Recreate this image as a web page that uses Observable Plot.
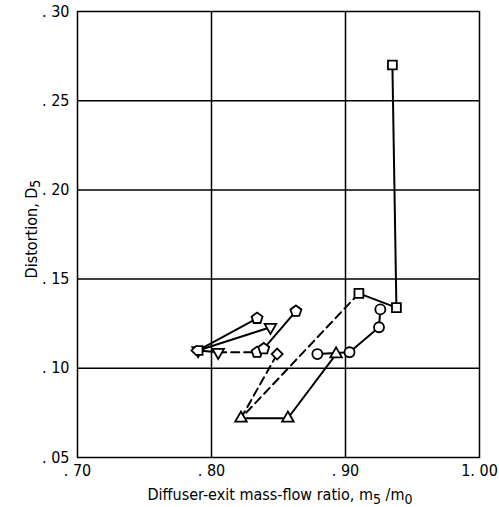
<!DOCTYPE html>
<html>
<head>
<meta charset="utf-8">
<script src="https://cdn.jsdelivr.net/npm/d3@7"></script>
<script src="https://cdn.jsdelivr.net/npm/@observablehq/plot@0.6"></script>
<style>
  html, body { margin: 0; padding: 0; background: #fff; }
  #chart svg { display: block; }
</style>
</head>
<body>
<div id="chart"></div>
<script>
// ---- data ----
const xTicks = [0.70, 0.80, 0.90, 1.00];
const xTickLabels = [". 70", ". 80", ". 90", "1. 00"];
const yTicks = [0.05, 0.10, 0.15, 0.20, 0.25, 0.30];
const yTickLabels = [". 05", ". 10", ". 15", ". 20", ". 25", ". 30"];

const squareX = [0.935, 0.938, 0.910];
const squareY = [0.270, 0.134, 0.142];

const circleX = [0.879, 0.903, 0.925, 0.926];
const circleY = [0.108, 0.109, 0.123, 0.133];

const triangleX = [0.822, 0.857, 0.893];
const triangleY = [0.072, 0.072, 0.108];

const diamondX = [0.849];
const diamondY = [0.108];

const pentagonX = [0.834, 0.839, 0.863];
const pentagonY = [0.109, 0.111, 0.132];

const flagX = [0.790, 0.834];
const flagY = [0.110, 0.128];

const invTriX = [0.844, 0.790, 0.805];
const invTriY = [0.123, 0.110, 0.109];

// ---- custom symbols ----
const sqrt3 = Math.sqrt(3);
const invTriangle = {
  draw(ctx, size) {
    const y = Math.sqrt(size / (sqrt3 * 3));
    ctx.moveTo(0, y * 2);
    ctx.lineTo(-sqrt3 * y, -y);
    ctx.lineTo(sqrt3 * y, -y);
    ctx.closePath();
  }
};
const diamondSym = {
  draw(ctx, size) {
    const s = Math.sqrt(size) * 0.62;
    ctx.moveTo(0, -s);
    ctx.lineTo(s, 0);
    ctx.lineTo(0, s);
    ctx.lineTo(-s, 0);
    ctx.closePath();
  }
};
const pentagon = {
  draw(ctx, size) {
    const r = Math.sqrt(size / 2.38);
    for (let i = 0; i < 5; i++) {
      const a = -Math.PI / 2 + i * 2 * Math.PI / 5;
      const px = r * Math.cos(a), py = r * Math.sin(a);
      if (i === 0) ctx.moveTo(px, py); else ctx.lineTo(px, py);
    }
    ctx.closePath();
  }
};
const homePlateLeft = {
  draw(ctx, size) {
    const s = Math.sqrt(size) / 2;
    ctx.moveTo(-s * 1.5, 0);
    ctx.lineTo(-s * 0.5, -s);
    ctx.lineTo(s, -s);
    ctx.lineTo(s, s);
    ctx.lineTo(-s * 0.5, s);
    ctx.closePath();
  }
};

const zip = (xs, ys) => xs.map((x, i) => ({x, y: ys[i]}));
const squares = zip(squareX, squareY);
const circles = zip(circleX, circleY);
const triangles = zip(triangleX, triangleY);
const diamonds = zip(diamondX, diamondY);
const pentagons = zip(pentagonX, pentagonY);
const flags = zip(flagX, flagY);
const invTris = zip(invTriX, invTriY);

// dashed connections between series
const dashedA = [squares[2], triangles[0]];
const dashedB = [triangles[0], diamonds[0]];
const dashedC = [invTris[2], pentagons[0]];

const lineStyle = {x: "x", y: "y", stroke: "black", strokeWidth: 2};
const dashStyle = {x: "x", y: "y", stroke: "black", strokeWidth: 2, strokeDasharray: "8,5"};
const dotStyle = (sym, r) => ({x: "x", y: "y", symbol: () => sym, r, fill: "white", stroke: "black", strokeWidth: 1.8});

const fontFamily = "'DejaVu Sans Condensed','Liberation Sans Narrow',sans-serif";

const chart = Plot.plot({
  width: 499,
  height: 507,
  marginLeft: 77,
  marginRight: 20,
  marginTop: 11,
  marginBottom: 50,
  style: {fontFamily, fontSize: "16px", background: "white", color: "black"},
  x: {domain: [0.70, 1.00]},
  y: {domain: [0.05, 0.30]},
  symbol: {type: "identity"},
  marks: [
    Plot.gridX([0.8, 0.9], {stroke: "black", strokeOpacity: 1, strokeWidth: 1.5}),
    Plot.gridY([0.10, 0.15, 0.20, 0.25], {stroke: "black", strokeOpacity: 1, strokeWidth: 1.5}),
    Plot.frame({stroke: "black", strokeWidth: 1.5}),
    Plot.axisX(xTicks, {tickSize: 0, tickPadding: 7, tickFormat: (d, i) => xTickLabels[i], label: null, fontSize: 16}),
    Plot.axisY(yTicks, {tickSize: 0, tickPadding: 8, tickFormat: (d, i) => yTickLabels[i], label: null, fontSize: 16}),
    Plot.line(dashedA, dashStyle),
    Plot.line(dashedB, dashStyle),
    Plot.line(dashedC, dashStyle),
    Plot.line(squares, lineStyle),
    Plot.line(circles, lineStyle),
    Plot.line(triangles, lineStyle),
    Plot.line(pentagons, lineStyle),
    Plot.line(flags, lineStyle),
    Plot.line(invTris, lineStyle),
    Plot.dot(squares, dotStyle(d3.symbolSquare, 5)),
    Plot.dot(circles, dotStyle(d3.symbolCircle, 5)),
    Plot.dot(triangles, dotStyle(d3.symbolTriangle, 4.3)),
    Plot.dot(diamonds, dotStyle(diamondSym, 5)),
    Plot.dot(pentagons, dotStyle(pentagon, 5)),
    Plot.dot(invTris, dotStyle(invTriangle, 4.3)),
    Plot.dot(flags.slice(1), dotStyle(pentagon, 5)),
    Plot.dot(flags.slice(0, 1), dotStyle(homePlateLeft, 5))
  ]
});

document.getElementById("chart").appendChild(chart);

// axis titles with subscripts
const svg = d3.select(chart);
const xt = svg.append("text")
  .attr("x", 280).attr("y", 500)
  .attr("text-anchor", "middle")
  .attr("font-family", fontFamily).attr("font-size", 16).attr("fill", "black");
xt.append("tspan").text("Diffuser-exit mass-flow ratio, m");
xt.append("tspan").attr("dy", 4).attr("font-size", 14).text("5");
xt.append("tspan").attr("dy", -4).text(" /m");
xt.append("tspan").attr("dy", 4).attr("font-size", 14).text("0");

const yt = svg.append("text")
  .attr("transform", "translate(37,229) rotate(-90)")
  .attr("text-anchor", "middle")
  .attr("font-family", fontFamily).attr("font-size", 16).attr("fill", "black");
yt.append("tspan").text("Distortion, D");
yt.append("tspan").attr("dy", 3).attr("font-size", 14).text("5");
</script>
</body>
</html>
